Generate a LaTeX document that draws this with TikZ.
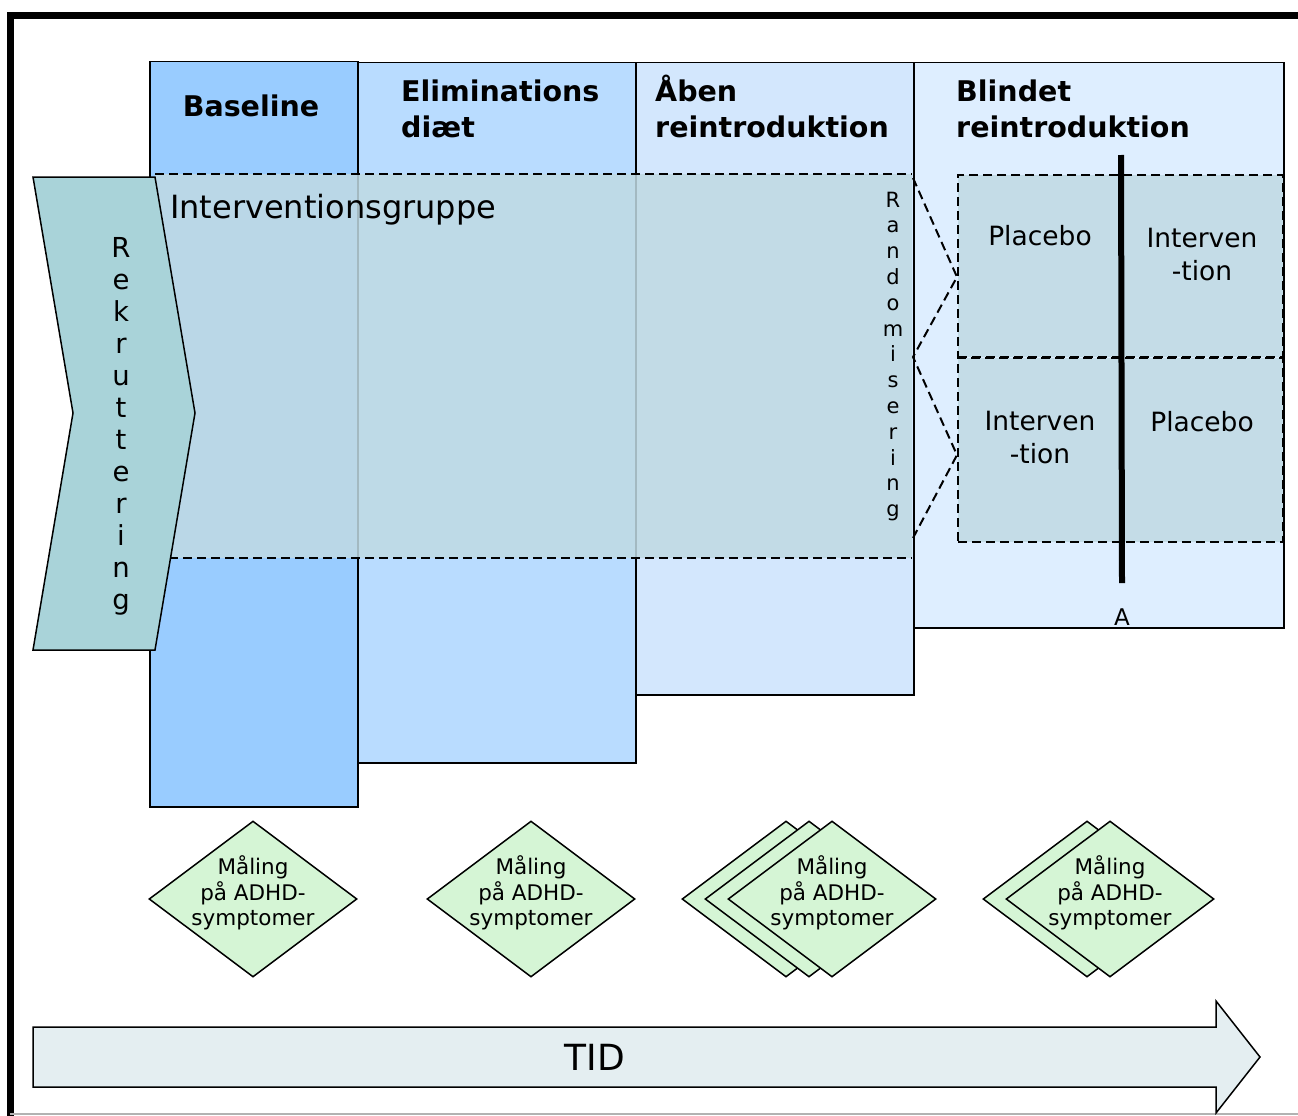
\documentclass[tikz,border=0pt]{standalone}
\usepackage{fontspec}
\setmainfont{DejaVu Sans}
\usetikzlibrary{shapes.geometric}

\definecolor{basefarve}{HTML}{99CCFF}
\definecolor{elimfarve}{HTML}{B9DCFF}
\definecolor{aabenfarve}{HTML}{D3E7FD}
\definecolor{blindfarve}{HTML}{DEEEFF}
\definecolor{gruppefarve}{HTML}{C0DAE3}
\definecolor{rekfarve}{HTML}{A9D3D9}
\definecolor{maalfarve}{HTML}{D5F5D5}
\definecolor{tidfarve}{HTML}{E4EEF1}

\tikzset{
	fase/.style={draw, line width=1.5pt, anchor=north west, inner sep=0pt},
	gruppe/.style={fill=gruppefarve, fill opacity=0.85, inner sep=0pt},
	stiplet/.style={dash pattern=on 9pt off 5pt, line width=2pt},
	overskrift/.style={font=\fontsize{28.5}{36}\selectfont\bfseries, align=left, inner sep=0pt, anchor=base west},
	maaling/.style={diamond, draw, line width=1.5pt, fill=maalfarve, minimum width=208pt, minimum height=156pt, inner sep=0pt},
	maaltekst/.style={font=\fontsize{21.5}{25.5}\selectfont, align=center, inner sep=0pt},
	armtekst/.style={font=\fontsize{26.5}{33}\selectfont, align=center, inner sep=0pt}
}

\begin{document}
\begin{tikzpicture}[x=1pt, y=-1pt]
\useasboundingbox (0,0) rectangle (1298,1116);

% Ramme
\draw[line width=7pt] (10,1120) -- (10,15.5) -- (1305,15.5);
\draw[gray!60, line width=1.5pt] (10,1114) -- (1298,1114);

% Faser
\node[fase, fill=basefarve, minimum width=208pt, minimum height=745pt] (base) at (149,61) {};
\node[fase, fill=elimfarve, minimum width=278pt, minimum height=700pt] (elim) at (357,62) {};
\node[fase, fill=aabenfarve, minimum width=278pt, minimum height=632pt] (aaben) at (635,62) {};
\node[fase, fill=blindfarve, minimum width=370pt, minimum height=565pt] (blind) at (913,62) {};

\node[font=\fontsize{28.5}{36}\selectfont\bfseries, inner sep=0pt] (tbase) at (251,106) {Baseline};
\node[overskrift] (telim) at (401,137) {Eliminations\\diæt};
\node[overskrift] (taaben) at (655,137) {Åben\\reintroduktion};
\node[overskrift] (tblind) at (956,137) {Blindet\\reintroduktion};

% Interventionsgruppe
\node[gruppe, anchor=north west, minimum width=757pt, minimum height=384pt] (gruppe) at (155,174) {};
\draw[stiplet] (gruppe.north west) -- (gruppe.north east);
\draw[stiplet] (gruppe.south west) -- (gruppe.south east);
\node[font=\fontsize{32}{38}\selectfont, anchor=base west, inner sep=0pt] (tgruppe) at (170,218) {Interventionsgruppe};

% Rekruttering
\draw[line width=1.5pt, fill=rekfarve] (33,177) -- (155,177) -- (195,413) -- (155,650) -- (33,650) -- (73,413) -- cycle;
\foreach \b [count=\i from 0] in {R,e,k,r,u,t,t,e,r,i,n,g}
	\node[font=\fontsize{27.5}{32}\selectfont, anchor=base, inner sep=0pt] (rek\i) at (121,257+32*\i) {\b};

% Randomisering
\foreach \b [count=\i from 0] in {R,a,n,d,o,m,i,s,e,r,i,n,g}
	\node[font=\fontsize{21}{26}\selectfont, anchor=base, inner sep=0pt] (rand\i) at (893,207+25.8*\i) {\b};

\node[gruppe, draw, stiplet, minimum width=325pt, minimum height=182pt] (blindA) at (1120.5,266) {};
\node[gruppe, draw, stiplet, minimum width=325pt, minimum height=184pt] (blindB) at (1120.5,450) {};

\coordinate (rstart) at (913,178);
\coordinate (rmidt) at (913,357);
\coordinate (rslut) at (913,538);
\draw[stiplet] (rstart) -- ([yshift=-11pt]blindA.west) -- (rmidt) -- ([yshift=-5pt]blindB.west) -- (rslut);

\node[armtekst] (plA) at (1040,236) {Placebo};
\node[armtekst] (ivA) at (1202,254.5) {Interven\\-tion};
\node[armtekst] (ivB) at (1040,438) {Interven\\-tion};
\node[armtekst] (plB) at (1202,422) {Placebo};

% Skift A
\node[font=\fontsize{23}{28}\selectfont, anchor=base, inner sep=0pt] (mA) at (1122,625) {A};
\coordinate (mtop) at (1121,155);
\draw[line width=6pt] (mtop) -- ([yshift=25pt]mA.north);

% Maalinger
\foreach \x in {253, 531, 786, 809, 832, 1087, 1110}
	\node[maaling] (m\x) at (\x,899) {};
\foreach \x in {253, 531, 832, 1110}
	\node[maaltekst] (mt\x) at (\x,893) {Måling\\på ADHD-\\symptomer};

% Tid
\draw[line width=1.5pt, fill=tidfarve] (33,1027) -- (1216,1027) -- (1216,1001) -- (1260,1057) -- (1216,1113) -- (1216,1087) -- (33,1087) -- cycle;
\node[font=\fontsize{36}{40}\selectfont, inner sep=0pt] (tid) at (595,1057) {TID};
\end{tikzpicture}
\end{document}
